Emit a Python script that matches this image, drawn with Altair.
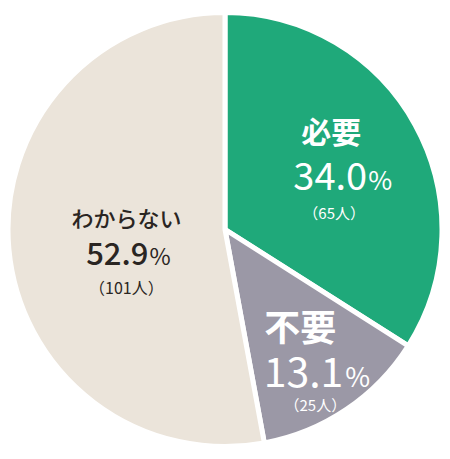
import altair as alt
import pandas as pd

# ---- data ----
categories = ["必要", "不要", "わからない"]
percents = [34.0, 13.1, 52.9]
counts = [65, 25, 101]
colors = ["#1fa97a", "#9b98a6", "#ebe4da"]

df = pd.DataFrame({
    "cat": categories,
    "pct": percents,
    "n": counts,
    "order": list(range(len(categories))),
})

FONT = "Noto Sans CJK JP"
theta_scale = alt.Scale(domain=[0, 100])

base = alt.Chart(df)

arc = base.mark_arc(radius=217, stroke="white", strokeWidth=5).encode(
    theta=alt.Theta("pct:Q", stack=True, scale=theta_scale),
    color=alt.Color("cat:N", scale=alt.Scale(domain=categories, range=colors), legend=None),
    order=alt.Order("order:Q"),
)

lab = (
    base.transform_window(cum="sum(pct)", sort=[alt.SortField("order")])
    .transform_calculate(
        mid="datum.cum - datum.pct / 2",
        pnum="format(datum.pct, '.1f')",
        cnt="'（' + datum.n + '人）'",
    )
)

# per-category label styling: anchor radius, text colour, lines (field, size, weight, align, baseline, dx, dy)
styles = {
    "必要": dict(r=120, color="white", lines=[
        ("cat", 30, "bold", "center", "middle", 1, -38),
        ("pnum", 38, 400, "right", "alphabetic", 37, 18),
        ("pct_sign", 26, 400, "left", "alphabetic", 38, 18),
        ("cnt", 15, 400, "center", "middle", 4, 42),
    ]),
    "不要": dict(r=165, color="white", lines=[
        ("cat", 36, "bold", "center", "middle", -17, -36),
        ("pnum", 41, 400, "right", "alphabetic", 26, 21),
        ("pct_sign", 27, 400, "left", "alphabetic", 28, 21),
        ("cnt", 15, 400, "center", "middle", -2, 40),
    ]),
    "わからない": dict(r=100, color="#2a2522", lines=[
        ("cat", 22, 500, "center", "middle", 1, -19),
        ("pnum", 31, 500, "right", "alphabetic", 23, 26),
        ("pct_sign", 23, 400, "left", "alphabetic", 24, 26),
        ("cnt", 16, 400, "center", "middle", 1, 50),
    ]),
}

layers = [arc]
for cat in categories:
    st = styles[cat]
    for field, size, weight, align, baseline, dx, dy in st["lines"]:
        src = lab.transform_filter(alt.datum.cat == cat)
        if field == "pct_sign":
            src = src.transform_calculate(pct_sign="'%'")
        layers.append(
            src.mark_text(
                radius=st["r"], dx=dx, dy=dy, font=FONT, fontSize=size,
                fontWeight=weight, align=align, baseline=baseline, color=st["color"],
            ).encode(
                theta=alt.Theta("mid:Q", stack=None, scale=theta_scale),
                text=alt.Text(f"{field}:N"),
            )
        )

chart = (
    alt.layer(*layers)
    .properties(width=434, height=433, autosize="none",
                padding={"left": 0, "top": 5, "right": 0, "bottom": 0})
    .configure_view(stroke=None)
)

chart.save("out.html", embed_options={"renderer": "svg", "actions": False})
